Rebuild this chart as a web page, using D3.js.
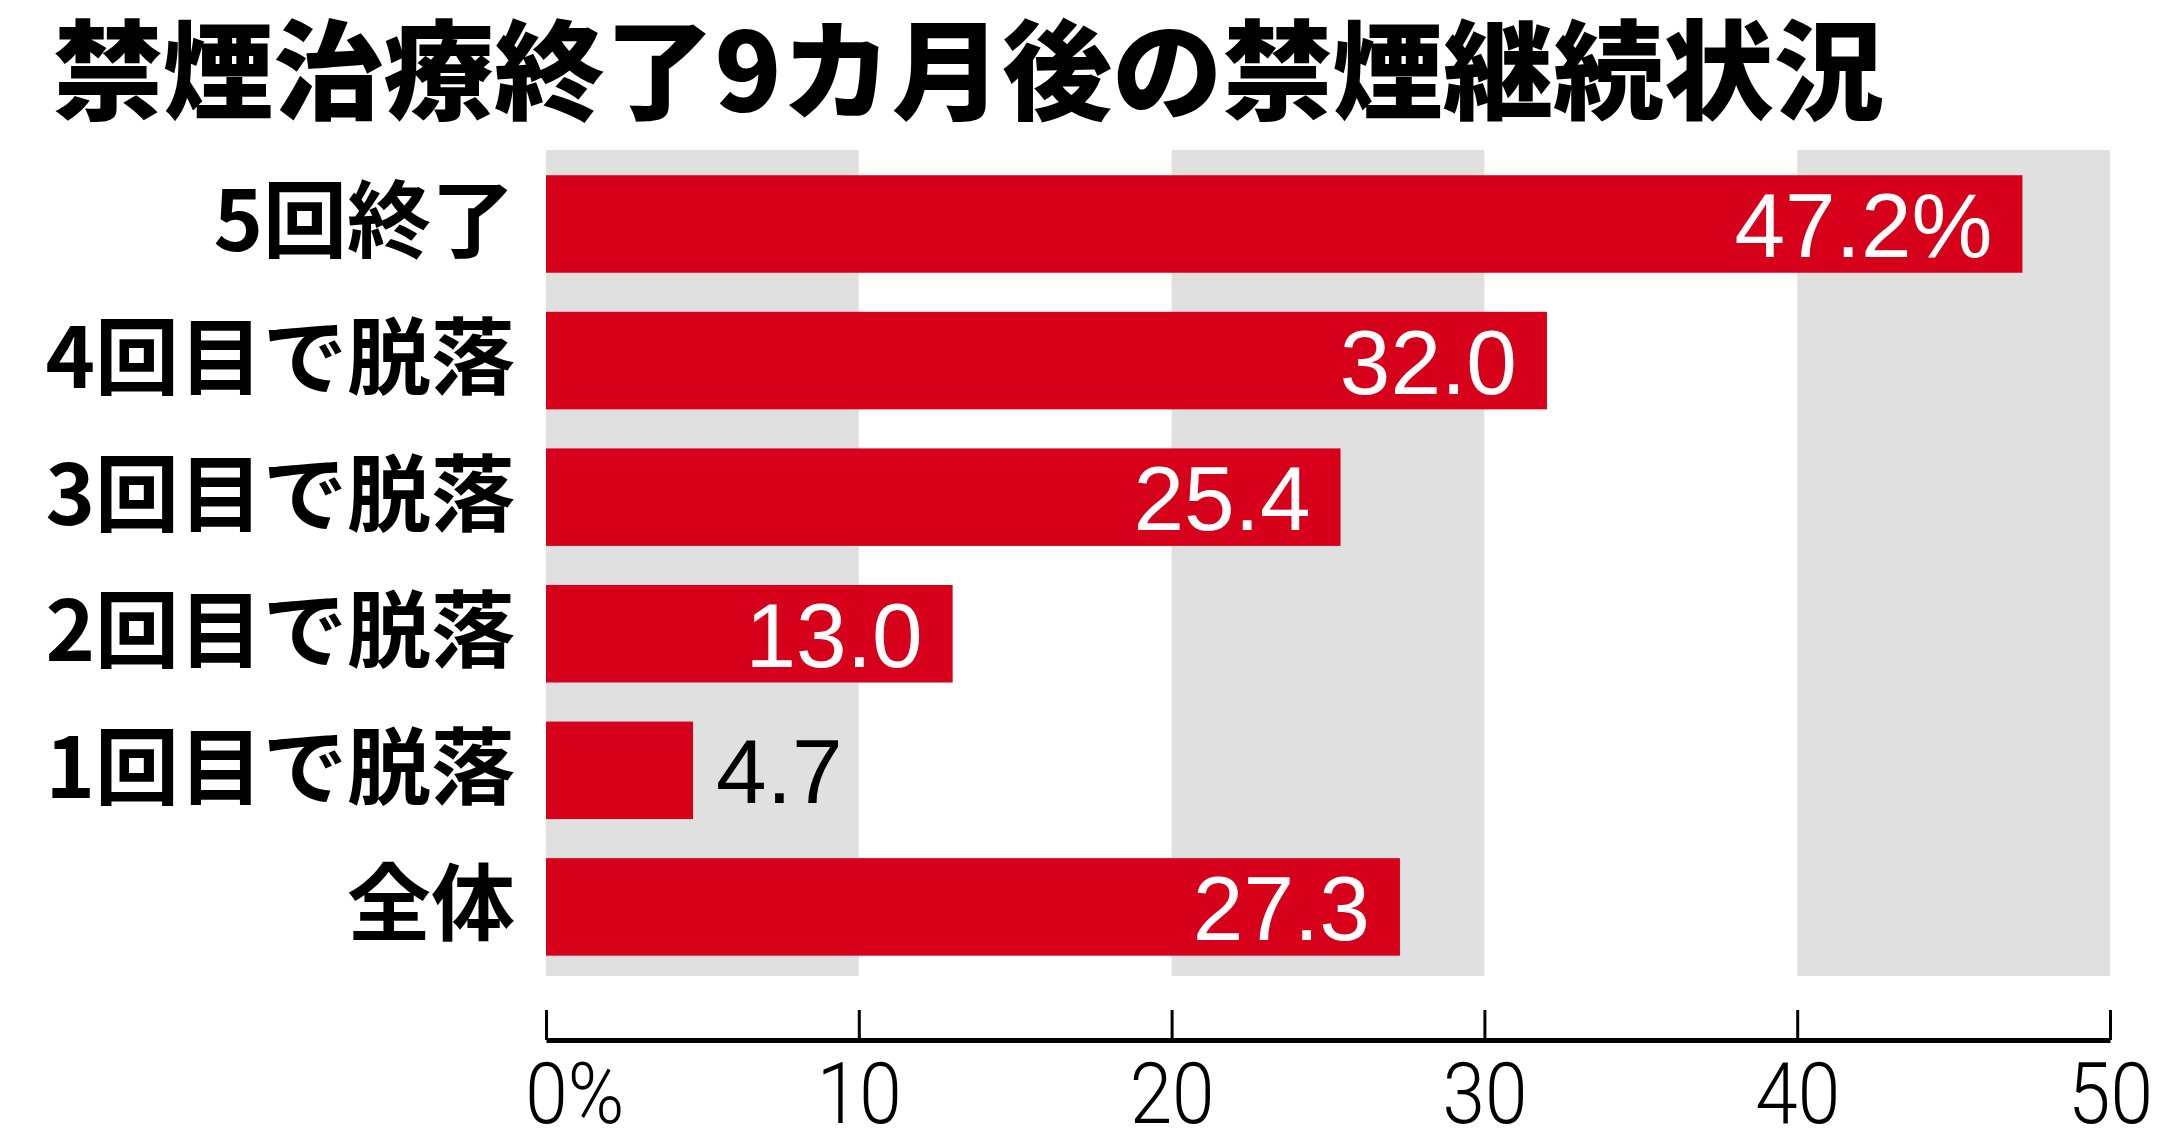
<!DOCTYPE html>
<html><head><meta charset="utf-8">
<script src="https://cdn.jsdelivr.net/npm/d3@7"></script>
<style>
html,body{margin:0;padding:0;background:#fff;}
svg{display:block;}
</style></head>
<body>
<svg id="chart" width="2180" height="1139"></svg>
<script>
const titleText = "禁煙治療終了9カ月後の禁煙継続状況";
const categories = ["5回終了","4回目で脱落","3回目で脱落","2回目で脱落","1回目で脱落","全体"];
const values = [47.2, 32.0, 25.4, 13.0, 4.7, 27.3];
const valueLabels = ["47.2%","32.0","25.4","13.0","4.7","27.3"];
const tickValues = [0,10,20,30,40,50];
const tickLabels = ["0","10","20","30","40","50"];
const bandRanges = [[0,10],[20,30],[40,50]];

const svg = d3.select("#chart");
const left = 546, right = 2110;
const x = d3.scaleLinear().domain([0,50]).range([left,right]);
const y = d3.scaleBand().domain(categories).range([155.7, 975.2]).paddingInner(0.286).paddingOuter(0.143);

const RED = "#d7001a", GREY = "#e0e0e0";

// title
svg.append("text")
  .attr("x", 53).attr("y", 64)
  .attr("dominant-baseline","central")
  .attr("font-family","'Noto Sans CJK JP','Noto Sans CJK SC',sans-serif")
  .attr("font-weight",900)
  .attr("font-size",108)
  .attr("textLength", 1831).attr("lengthAdjust","spacingAndGlyphs")
  .attr("fill","#000")
  .text(titleText);

// grey bands
svg.append("g").selectAll("rect").data(bandRanges).join("rect")
  .attr("x", d => x(d[0])).attr("width", d => x(d[1]) - x(d[0]))
  .attr("y", 150).attr("height", 976 - 150)
  .attr("fill", GREY);

// bars
svg.append("g").selectAll("rect").data(values).join("rect")
  .attr("x", x(0))
  .attr("y", (d,i) => y(categories[i]))
  .attr("width", d => x(d) - x(0))
  .attr("height", y.bandwidth())
  .attr("fill", RED);

// category labels
svg.append("g").selectAll("text").data(categories).join("text")
  .attr("x", 515)
  .attr("y", d => y(d) + y.bandwidth()/2 - 9)
  .attr("text-anchor","end")
  .attr("dominant-baseline","central")
  .attr("font-family","'Noto Sans CJK JP','Noto Sans CJK SC',sans-serif")
  .attr("font-weight",700)
  .attr("font-size",84)
  .attr("fill","#000")
  .text(d => d);

// value labels
svg.append("g").selectAll("text").data(values).join("text")
  .each(function(d,i){
    const inside = (x(d) - x(0)) > 250;
    d3.select(this)
      .attr("x", inside ? x(d) - 30 : x(d) + 23)
      .attr("y", y(categories[i]) + y.bandwidth()/2 + 33)
      .attr("text-anchor", inside ? "end" : "start")
      .attr("fill", inside ? "#fff" : "#000");
  })
  .attr("font-family","'Liberation Sans',Arial,sans-serif")
  .attr("font-size",91)
  .text((d,i) => valueLabels[i]);

// axis
const axis = d3.axisBottom(x).tickValues(tickValues)
  .tickSizeInner(-30).tickSizeOuter(0).tickPadding(0)
  .tickFormat((d,i) => tickLabels[i]);
const gAxis = svg.append("g").attr("transform","translate(0,1040)").call(axis);
gAxis.select(".domain").attr("stroke","#000").attr("stroke-width",5);
gAxis.selectAll(".tick line").attr("stroke","#000").attr("stroke-width",3);
const sx = 0.9;
gAxis.selectAll(".tick text")
  .attr("font-family","Roboto,'Open Sans',sans-serif")
  .attr("font-weight",300)
  .attr("font-size",85)
  .attr("fill","#000")
  .attr("dy",null)
  .attr("y",83)
  .attr("transform",`scale(${sx},1)`);
// "0%" : the 0 is centered on the tick, % hangs to the right
gAxis.selectAll(".tick text").filter(d => d === 0).each(function(){
  const t = d3.select(this);
  const w0 = this.getComputedTextLength();
  t.attr("text-anchor","start").attr("x", -w0/2);
  t.append("tspan").text("%");
});
</script>
</body></html>
